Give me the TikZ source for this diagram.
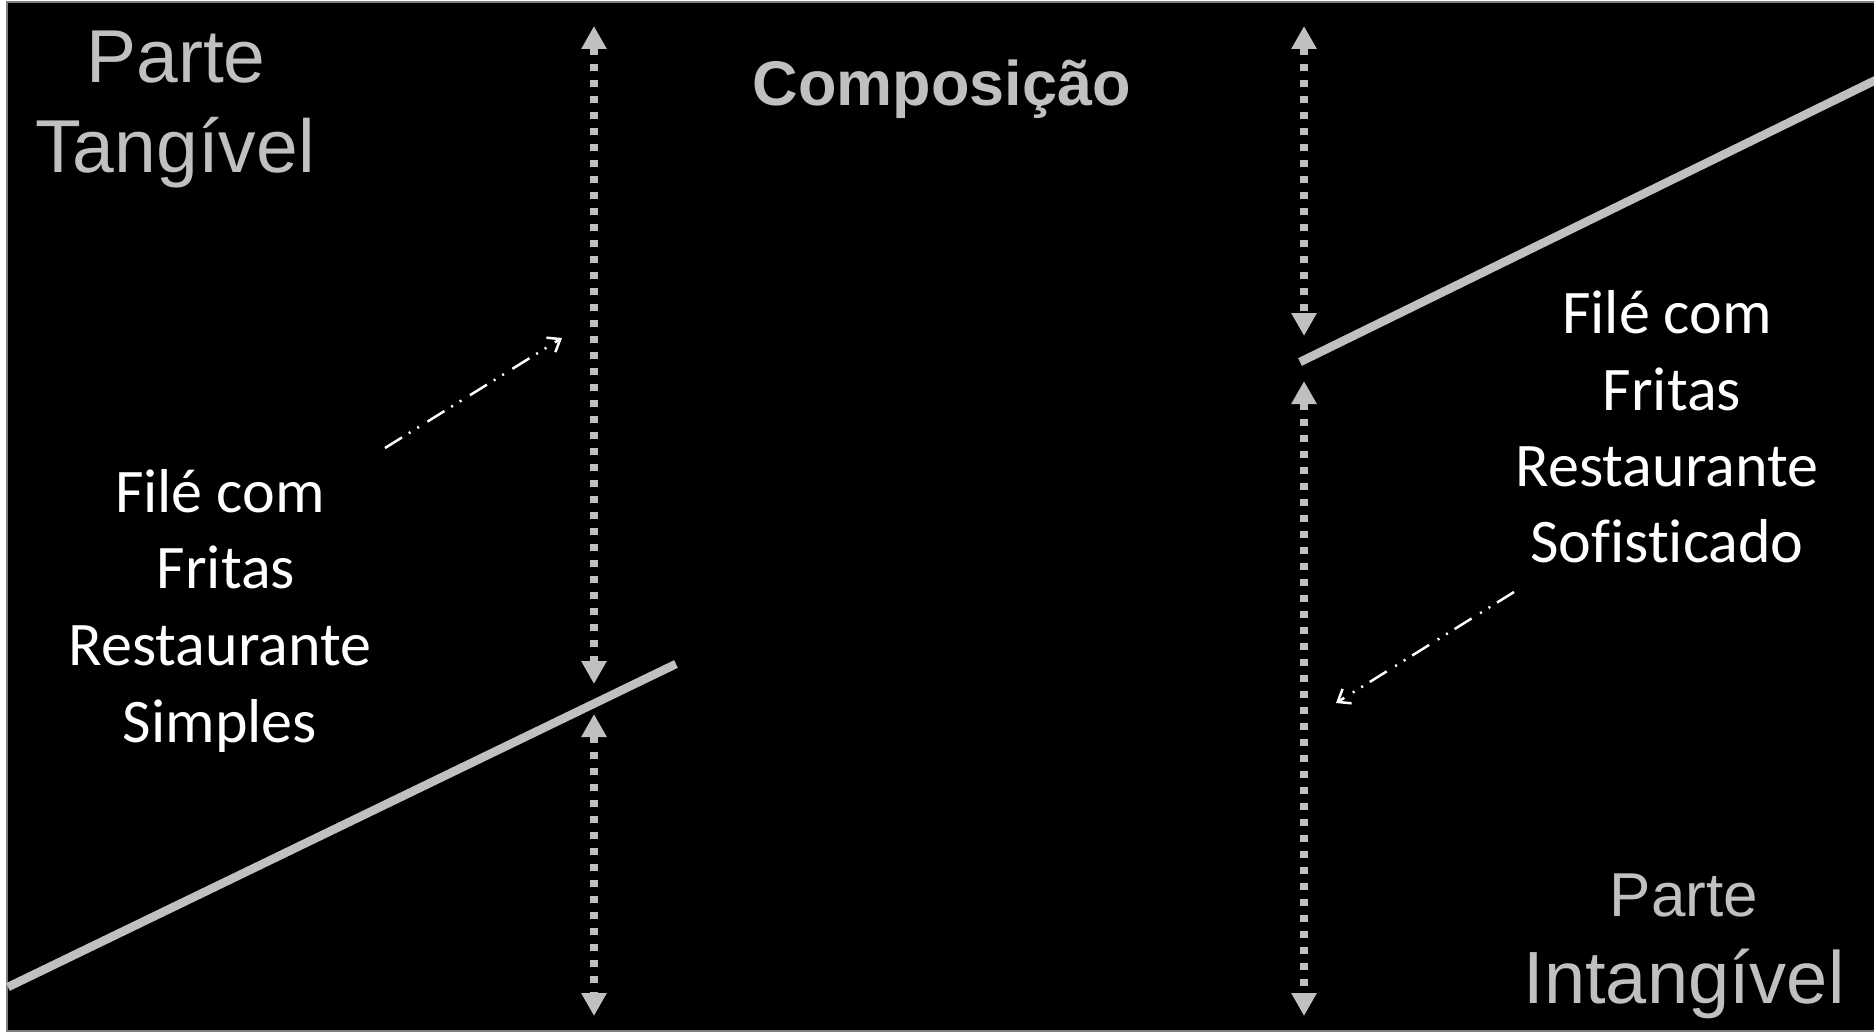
\documentclass[tikz,border=0pt]{standalone}
\usepackage{fontspec}
\setmainfont{Liberation Sans}
\newfontfamily\calibrifont[Ligatures=NoCommon]{Carlito}
\usetikzlibrary{arrows.meta}
\definecolor{lg}{HTML}{C0C0C0}
\definecolor{frame}{HTML}{7F7F7F}
\begin{document}
\begin{tikzpicture}[x=1pt,y=-1pt,
  bar/.style={draw=lg, line width=8.5pt},
  dimarrow/.style={draw=lg, line width=8pt, dash pattern=on 7pt off 9pt,
    {Triangle[length=23pt,width=24pt]}-{Triangle[length=23pt,width=24pt]}},
  pointer/.style={draw=white, line width=2.5pt,
    dash pattern=on 20pt off 8pt on 2pt off 8pt on 2pt off 10pt,
    -{Straight Barb[length=11pt,width=17pt]}},
  graytxt/.style={text=lg, inner sep=0pt, anchor=base},
  whitetxt/.style={text=white, inner sep=0pt, anchor=base,
    font=\calibrifont\fontsize{62}{76}\selectfont}]
\useasboundingbox (0,0) rectangle (1874,1033);
\fill[white] (0,0) rectangle (1874,1033);
\draw[fill=black, draw=frame, line width=1.5pt] (7,2) rectangle (1880,1031);

% titles
\node[graytxt, font=\fontsize{75}{90}\selectfont] (pt1) at (176,82) {Parte};
\node[graytxt, font=\fontsize{75}{90}\selectfont] (pt2) at (175,172) {Tangível};
\node[graytxt, font=\bfseries\fontsize{63}{74}\selectfont] (comp) at (942,105) {Composição};
\node[graytxt, font=\fontsize{62}{74}\selectfont] (pi1) at (1684,916) {Parte};
\node[graytxt, font=\fontsize{74}{88}\selectfont] (pi2) at (1684,1003) {Intangível};

% left text block
\node[whitetxt] (a1) at (220,512) {Filé com};
\node[whitetxt] (a2) at (226,588) {Fritas};
\node[whitetxt] (a3) at (220,665) {Restaurante};
\node[whitetxt] (a4) at (220,742) {Simples};

% right text block
\node[whitetxt] (b1) at (1667,333) {Filé com};
\node[whitetxt] (b2) at (1672,410) {Fritas};
\node[whitetxt] (b3) at (1667,486) {Restaurante};
\node[whitetxt] (b4) at (1667,562) {Sofisticado};

% slanted lines
\coordinate (l1s) at (8,987);
\coordinate (l1e) at (676,664);
\coordinate (l2s) at (1300,362);
\coordinate (l2e) at (1884,76);
\draw[bar] (l1s) -- (l1e);
\draw[bar] (l2s) -- (l2e);

% dotted double arrows
\coordinate (d1a) at (594,26);
\coordinate (d1b) at (594,684);
\coordinate (d2a) at (594,714);
\coordinate (d2b) at (594,1016);
\coordinate (d3a) at (1304,26);
\coordinate (d3b) at (1304,336);
\coordinate (d4a) at (1304,381);
\coordinate (d4b) at (1304,1016);
\draw[dimarrow] (d1a) -- (d1b);
\draw[dimarrow] (d2a) -- (d2b);
\draw[dimarrow] (d3a) -- (d3b);
\draw[dimarrow] (d4a) -- (d4b);

% pointers
\coordinate (p1s) at (385,448);
\coordinate (p1e) at (562,338);
\coordinate (p2s) at (1514,592);
\coordinate (p2e) at (1336,703);
\draw[pointer] (p1s) -- (p1e);
\draw[pointer] (p2s) -- (p2e);
\end{tikzpicture}
\end{document}
